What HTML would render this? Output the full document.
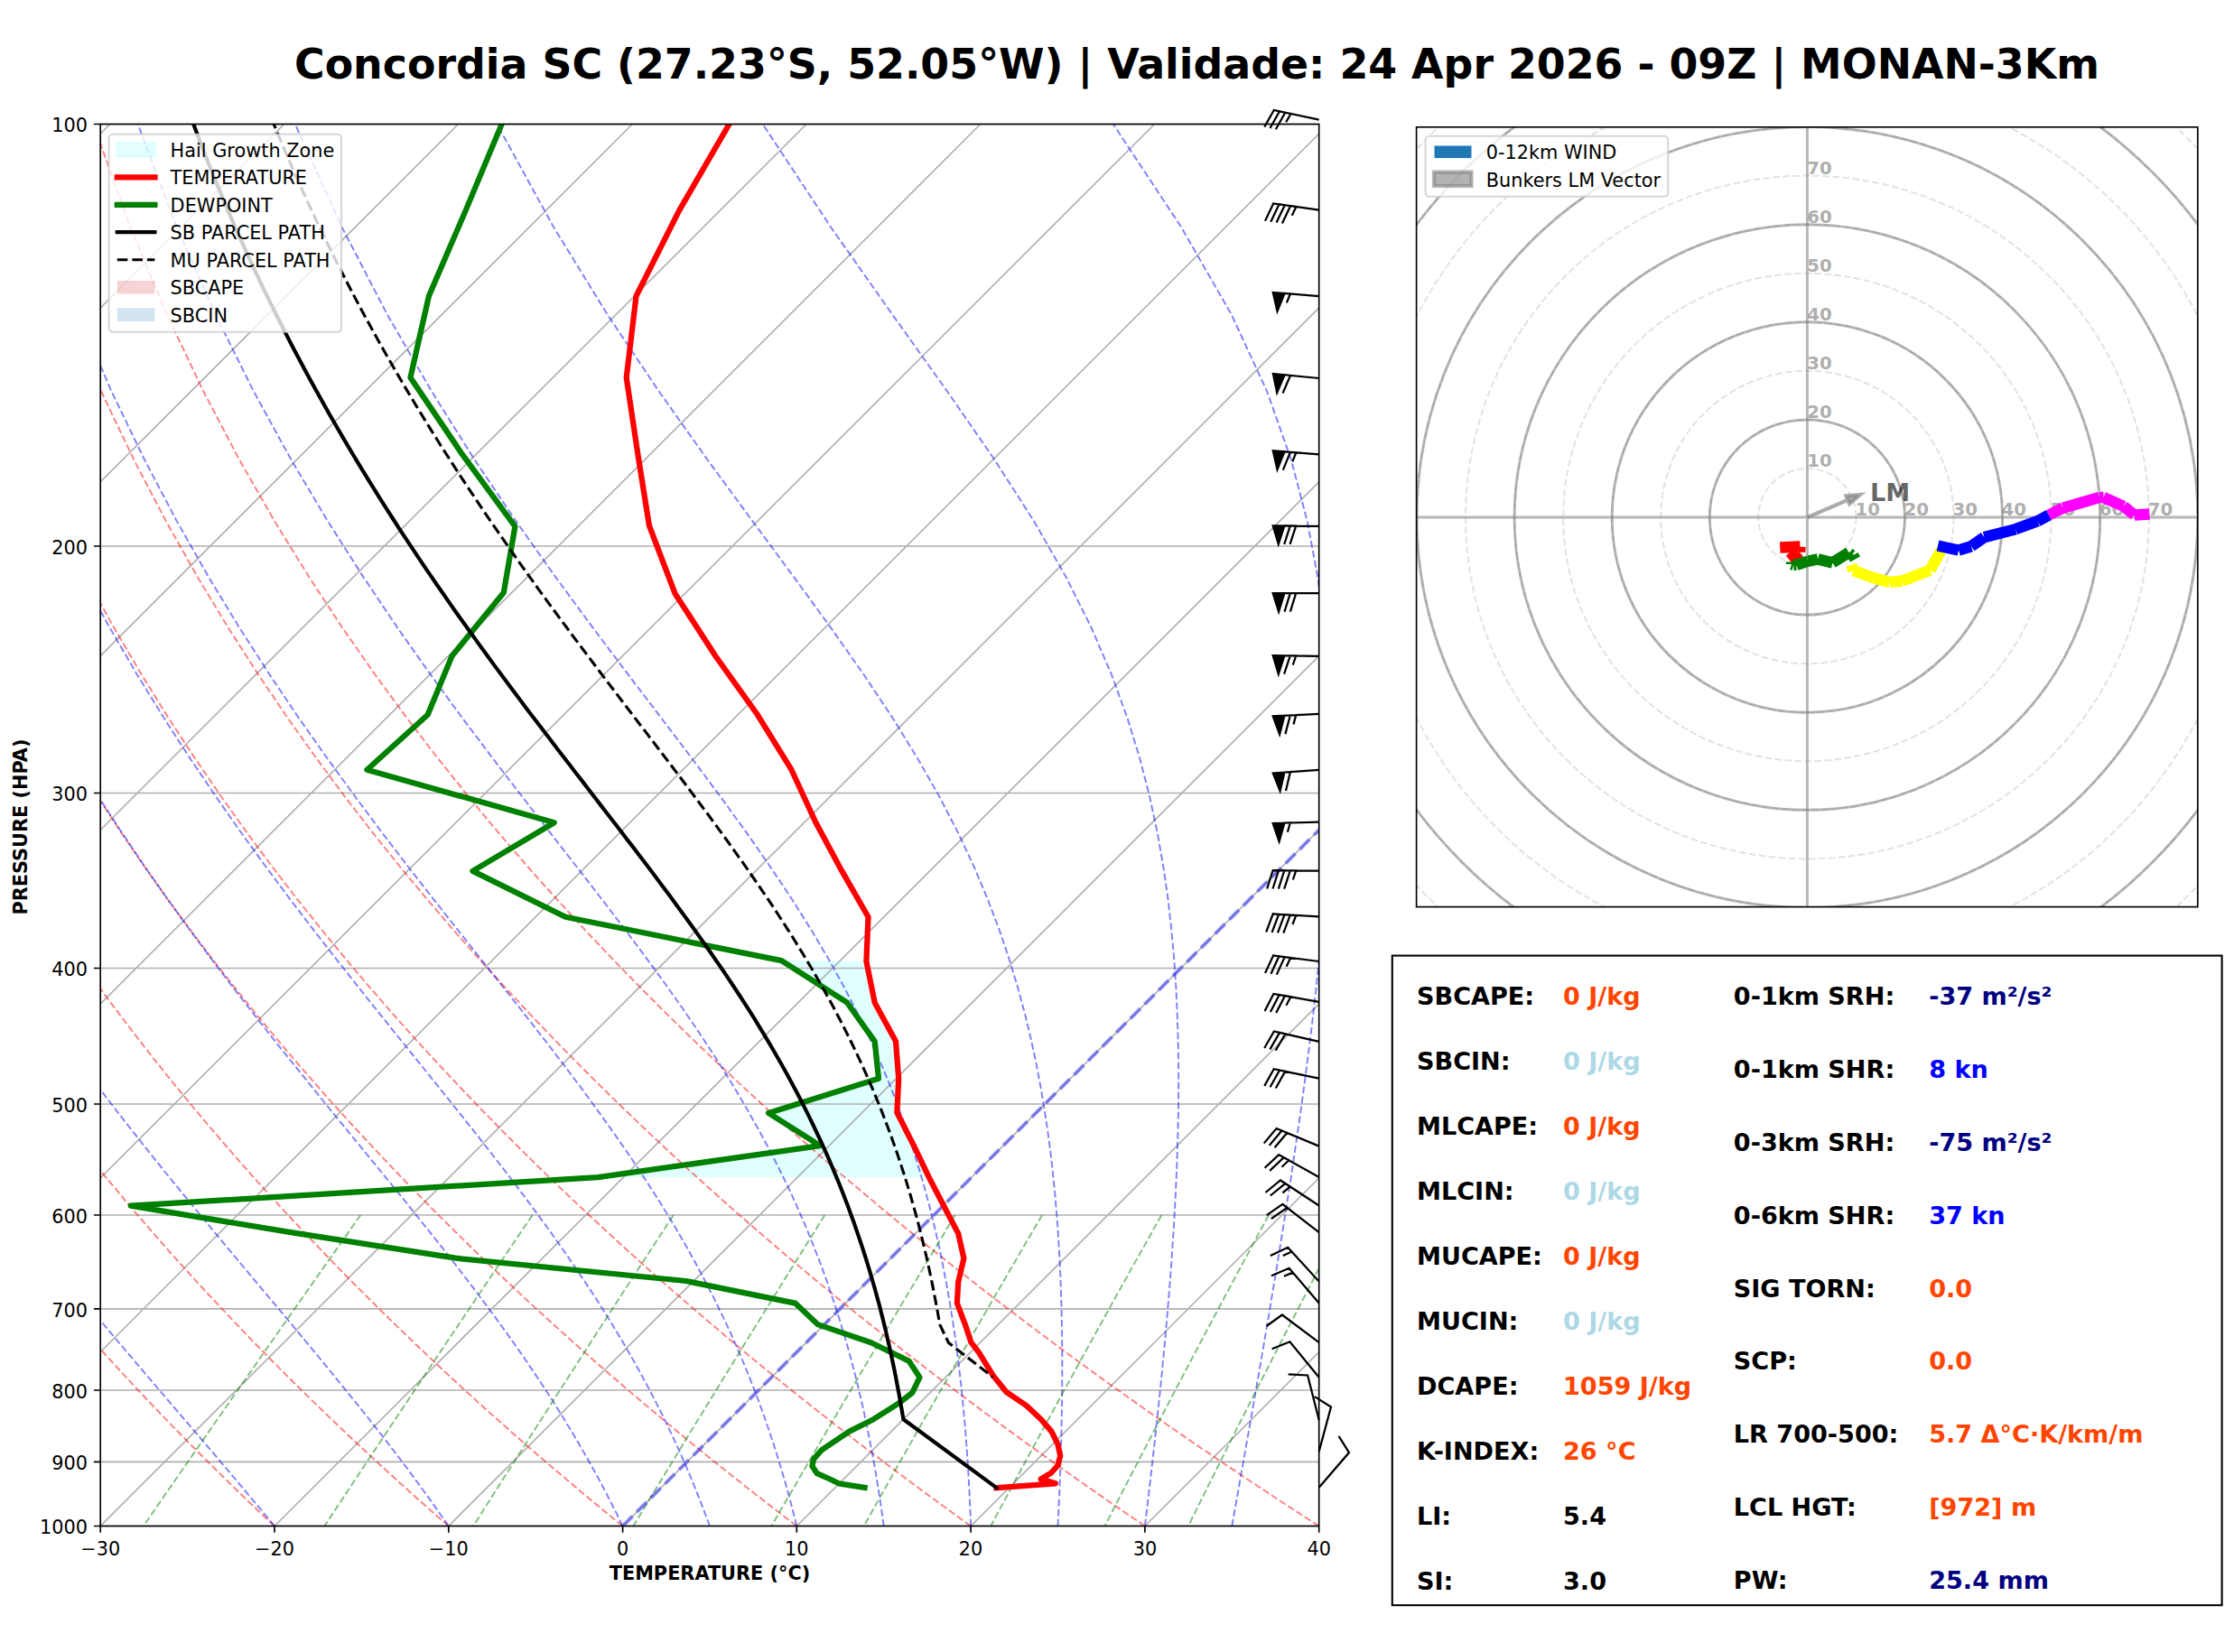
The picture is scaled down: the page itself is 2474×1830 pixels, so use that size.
<!DOCTYPE html>
<html><head><meta charset="utf-8"><title>Skew-T</title><style>html,body{margin:0;padding:0;background:#fff}</style></head><body><svg width="2474" height="1830" viewBox="0 0 2474 1830" style="display:block;font-family:'DejaVu Sans','Liberation Sans',sans-serif">
<rect width="2474" height="1830" fill="#fff"/>
<defs><clipPath id="ca"><rect x="111.2" y="137.5" width="1349.5" height="1553.0"/></clipPath></defs>
<g clip-path="url(#ca)" fill="none">
<path d="M865.5 1064.1 L938.2 1110.7 L968.7 1153.6 L973.0 1194.8 L851.0 1232.9 L908.2 1269.2 L662.2 1304.2 L1029.0 1304.6 L1012.9 1271.0 L993.4 1232.5 L995.2 1194.8 L992.0 1153.6 L968.7 1110.7 L959.4 1064.8Z" fill="#00ffff" fill-opacity="0.12" stroke="none"/>
<path d="M-1623.9 1690.5 L-70.9 137.5 M-1431.1 1690.5 L121.9 137.5 M-1238.3 1690.5 L314.7 137.5 M-1045.5 1690.5 L507.5 137.5 M-852.7 1690.5 L700.3 137.5 M-659.9 1690.5 L893.1 137.5 M-467.2 1690.5 L1085.8 137.5 M-274.4 1690.5 L1278.6 137.5 M-81.6 1690.5 L1471.4 137.5 M111.2 1690.5 L1664.2 137.5 M304.0 1690.5 L1857.0 137.5 M496.8 1690.5 L2049.8 137.5 M689.6 1690.5 L2242.6 137.5 M882.3 1690.5 L2435.3 137.5 M1075.1 1690.5 L2628.1 137.5 M1267.9 1690.5 L2820.9 137.5 M1460.7 1690.5 L3013.7 137.5 M111.2 137.5 L1460.7 137.5 M111.2 605.0 L1460.7 605.0 M111.2 878.5 L1460.7 878.5 M111.2 1072.5 L1460.7 1072.5 M111.2 1223.0 L1460.7 1223.0 M111.2 1346.0 L1460.7 1346.0 M111.2 1449.9 L1460.7 1449.9 M111.2 1540.0 L1460.7 1540.0 M111.2 1619.4 L1460.7 1619.4 M111.2 1690.5 L1460.7 1690.5" stroke="#b0b0b0" stroke-width="1.67"/>
<path d="M111.2 1690.5 L98.9 1678.0 L86.6 1665.3 L74.1 1652.3 L61.6 1639.0 L48.9 1625.5 L36.1 1611.7 L23.3 1597.7 L10.3 1583.3 L-2.8 1568.6 L-16.0 1553.6 L-29.3 1538.3 L-42.8 1522.6 L-56.3 1506.5 L-70.0 1490.0 L-83.8 1473.1 L-97.7 1455.8 L-111.8 1438.0 L-126.0 1419.8 L-140.3 1401.0 L-154.8 1381.7 L-169.4 1361.8 L-184.1 1341.4 L-199.0 1320.2 L-214.1 1298.5 L-229.2 1275.9 L-244.6 1252.6 L-260.0 1228.5 L-275.7 1203.4 L-291.4 1177.4 L-307.4 1150.4 L-323.4 1122.2 L-339.6 1092.8 L-356.0 1062.1 L-372.4 1029.9 L-389.0 996.1 L-405.7 960.5 L-422.5 922.9 L-439.3 883.0 L-456.1 840.7 L-472.9 795.6 L-489.7 747.2 L-506.2 695.1 L-522.4 638.6 L-538.1 576.9 L-553.2 509.0 L-567.1 433.5 L-579.4 348.5 L-589.4 251.2 L-595.5 137.5 M304.0 1690.5 L290.7 1678.0 L277.3 1665.3 L263.8 1652.3 L250.2 1639.0 L236.5 1625.5 L222.6 1611.7 L208.6 1597.7 L194.5 1583.3 L180.3 1568.6 L165.9 1553.6 L151.4 1538.3 L136.8 1522.6 L122.0 1506.5 L107.1 1490.0 L92.0 1473.1 L76.8 1455.8 L61.4 1438.0 L45.9 1419.8 L30.2 1401.0 L14.4 1381.7 L-1.7 1361.8 L-17.8 1341.4 L-34.2 1320.2 L-50.8 1298.5 L-67.5 1275.9 L-84.4 1252.6 L-101.5 1228.5 L-118.8 1203.4 L-136.3 1177.4 L-154.0 1150.4 L-171.9 1122.2 L-190.0 1092.8 L-208.2 1062.1 L-226.7 1029.9 L-245.4 996.1 L-264.2 960.5 L-283.2 922.9 L-302.4 883.0 L-321.6 840.7 L-341.0 795.6 L-360.4 747.2 L-379.7 695.1 L-398.9 638.6 L-417.9 576.9 L-436.3 509.0 L-453.9 433.5 L-470.3 348.5 L-484.6 251.2 L-495.6 137.5 M496.8 1690.5 L482.5 1678.0 L468.1 1665.3 L453.5 1652.3 L438.8 1639.0 L424.0 1625.5 L409.1 1611.7 L394.0 1597.7 L378.8 1583.3 L363.4 1568.6 L347.9 1553.6 L332.2 1538.3 L316.3 1522.6 L300.3 1506.5 L284.2 1490.0 L267.9 1473.1 L251.4 1455.8 L234.7 1438.0 L217.8 1419.8 L200.8 1401.0 L183.5 1381.7 L166.1 1361.8 L148.4 1341.4 L130.6 1320.2 L112.5 1298.5 L94.2 1275.9 L75.7 1252.6 L57.0 1228.5 L38.0 1203.4 L18.8 1177.4 L-0.6 1150.4 L-20.3 1122.2 L-40.3 1092.8 L-60.5 1062.1 L-81.0 1029.9 L-101.7 996.1 L-122.7 960.5 L-143.9 922.9 L-165.4 883.0 L-187.1 840.7 L-209.0 795.6 L-231.1 747.2 L-253.3 695.1 L-275.5 638.6 L-297.6 576.9 L-319.4 509.0 L-340.7 433.5 L-361.1 348.5 L-379.8 251.2 L-395.8 137.5 M689.6 1690.5 L674.2 1678.0 L658.8 1665.3 L643.2 1652.3 L627.5 1639.0 L611.6 1625.5 L595.5 1611.7 L579.3 1597.7 L563.0 1583.3 L546.5 1568.6 L529.8 1553.6 L512.9 1538.3 L495.9 1522.6 L478.7 1506.5 L461.3 1490.0 L443.7 1473.1 L425.9 1455.8 L407.9 1438.0 L389.7 1419.8 L371.3 1401.0 L352.7 1381.7 L333.8 1361.8 L314.7 1341.4 L295.4 1320.2 L275.8 1298.5 L256.0 1275.9 L235.9 1252.6 L215.5 1228.5 L194.9 1203.4 L173.9 1177.4 L152.7 1150.4 L131.2 1122.2 L109.4 1092.8 L87.2 1062.1 L64.7 1029.9 L41.9 996.1 L18.8 960.5 L-4.7 922.9 L-28.5 883.0 L-52.6 840.7 L-77.1 795.6 L-101.8 747.2 L-126.8 695.1 L-152.0 638.6 L-177.3 576.9 L-202.5 509.0 L-227.5 433.5 L-251.9 348.5 L-275.0 251.2 L-295.9 137.5 M882.3 1690.5 L866.0 1678.0 L849.5 1665.3 L832.9 1652.3 L816.1 1639.0 L799.1 1625.5 L782.0 1611.7 L764.7 1597.7 L747.2 1583.3 L729.6 1568.6 L711.7 1553.6 L693.7 1538.3 L675.4 1522.6 L657.0 1506.5 L638.4 1490.0 L619.5 1473.1 L600.4 1455.8 L581.1 1438.0 L561.6 1419.8 L541.8 1401.0 L521.8 1381.7 L501.5 1361.8 L481.0 1341.4 L460.2 1320.2 L439.1 1298.5 L417.7 1275.9 L396.0 1252.6 L374.0 1228.5 L351.7 1203.4 L329.1 1177.4 L306.1 1150.4 L282.7 1122.2 L259.0 1092.8 L234.9 1062.1 L210.5 1029.9 L185.6 996.1 L160.3 960.5 L134.6 922.9 L108.5 883.0 L81.9 840.7 L54.9 795.6 L27.5 747.2 L-0.4 695.1 L-28.5 638.6 L-57.0 576.9 L-85.7 509.0 L-114.3 433.5 L-142.7 348.5 L-170.2 251.2 L-196.1 137.5 M1075.1 1690.5 L1057.8 1678.0 L1040.3 1665.3 L1022.6 1652.3 L1004.7 1639.0 L986.7 1625.5 L968.5 1611.7 L950.0 1597.7 L931.4 1583.3 L912.6 1568.6 L893.6 1553.6 L874.4 1538.3 L855.0 1522.6 L835.3 1506.5 L815.5 1490.0 L795.3 1473.1 L775.0 1455.8 L754.4 1438.0 L733.5 1419.8 L712.4 1401.0 L691.0 1381.7 L669.3 1361.8 L647.3 1341.4 L625.0 1320.2 L602.4 1298.5 L579.4 1275.9 L556.2 1252.6 L532.5 1228.5 L508.6 1203.4 L484.2 1177.4 L459.4 1150.4 L434.3 1122.2 L408.7 1092.8 L382.7 1062.1 L356.2 1029.9 L329.2 996.1 L301.8 960.5 L273.9 922.9 L245.4 883.0 L216.4 840.7 L186.8 795.6 L156.7 747.2 L126.1 695.1 L94.9 638.6 L63.3 576.9 L31.2 509.0 L-1.1 433.5 L-33.5 348.5 L-65.4 251.2 L-96.2 137.5 M1267.9 1690.5 L1249.5 1678.0 L1231.0 1665.3 L1212.3 1652.3 L1193.3 1639.0 L1174.2 1625.5 L1154.9 1611.7 L1135.4 1597.7 L1115.7 1583.3 L1095.7 1568.6 L1075.6 1553.6 L1055.2 1538.3 L1034.5 1522.6 L1013.7 1506.5 L992.5 1490.0 L971.2 1473.1 L949.5 1455.8 L927.6 1438.0 L905.4 1419.8 L882.9 1401.0 L860.1 1381.7 L837.0 1361.8 L813.6 1341.4 L789.8 1320.2 L765.7 1298.5 L741.2 1275.9 L716.3 1252.6 L691.1 1228.5 L665.4 1203.4 L639.3 1177.4 L612.8 1150.4 L585.8 1122.2 L558.4 1092.8 L530.4 1062.1 L501.9 1029.9 L472.9 996.1 L443.3 960.5 L413.1 922.9 L382.3 883.0 L350.9 840.7 L318.8 795.6 L286.0 747.2 L252.6 695.1 L218.4 638.6 L183.6 576.9 L148.1 509.0 L112.1 433.5 L75.7 348.5 L39.3 251.2 L3.7 137.5 M1460.7 1690.5 L1441.3 1678.0 L1421.7 1665.3 L1402.0 1652.3 L1382.0 1639.0 L1361.8 1625.5 L1341.4 1611.7 L1320.7 1597.7 L1299.9 1583.3 L1278.8 1568.6 L1257.5 1553.6 L1235.9 1538.3 L1214.1 1522.6 L1192.0 1506.5 L1169.6 1490.0 L1147.0 1473.1 L1124.1 1455.8 L1100.8 1438.0 L1077.3 1419.8 L1053.4 1401.0 L1029.3 1381.7 L1004.7 1361.8 L979.8 1341.4 L954.6 1320.2 L928.9 1298.5 L902.9 1275.9 L876.5 1252.6 L849.6 1228.5 L822.3 1203.4 L794.5 1177.4 L766.2 1150.4 L737.4 1122.2 L708.0 1092.8 L678.1 1062.1 L647.6 1029.9 L616.6 996.1 L584.8 960.5 L552.4 922.9 L519.3 883.0 L485.4 840.7 L450.8 795.6 L415.3 747.2 L379.0 695.1 L341.9 638.6 L303.8 576.9 L264.9 509.0 L225.3 433.5 L184.9 348.5 L144.1 251.2 L103.5 137.5" stroke="#ff0000" stroke-opacity="0.5" stroke-width="1.92" stroke-dasharray="7.71 3.33"/>
<path d="M111.2 1690.5 L100.3 1678.0 L89.2 1665.3 L77.9 1652.3 L66.4 1639.0 L54.7 1625.5 L42.9 1611.7 L30.8 1597.7 L18.6 1583.3 L6.2 1568.6 L-6.5 1553.6 L-19.3 1538.3 L-32.2 1522.6 L-45.4 1506.5 L-58.7 1490.0 L-72.2 1473.1 L-85.9 1455.8 L-99.8 1438.0 L-113.8 1419.8 L-128.0 1401.0 L-142.4 1381.7 L-156.9 1361.8 L-171.6 1341.4 L-186.5 1320.2 L-201.6 1298.5 L-216.8 1275.9 L-232.2 1252.6 L-247.7 1228.5 L-263.4 1203.4 L-279.3 1177.4 L-295.3 1150.4 L-311.5 1122.2 L-327.8 1092.8 L-344.3 1062.1 L-360.9 1029.9 L-377.7 996.1 L-394.5 960.5 L-411.5 922.9 L-428.5 883.0 L-445.5 840.7 L-462.5 795.6 L-479.4 747.2 L-496.2 695.1 L-512.6 638.6 L-528.6 576.9 L-543.9 509.0 L-558.2 433.5 L-570.8 348.5 L-581.1 251.2 L-587.6 137.5 M304.0 1690.5 L293.7 1678.0 L283.1 1665.3 L272.2 1652.3 L261.0 1639.0 L249.6 1625.5 L237.9 1611.7 L225.9 1597.7 L213.6 1583.3 L201.0 1568.6 L188.2 1553.6 L175.1 1538.3 L161.7 1522.6 L148.0 1506.5 L134.0 1490.0 L119.8 1473.1 L105.3 1455.8 L90.6 1438.0 L75.6 1419.8 L60.3 1401.0 L44.8 1381.7 L29.0 1361.8 L13.0 1341.4 L-3.3 1320.2 L-19.8 1298.5 L-36.6 1275.9 L-53.6 1252.6 L-70.8 1228.5 L-88.3 1203.4 L-106.0 1177.4 L-123.9 1150.4 L-142.1 1122.2 L-160.5 1092.8 L-179.1 1062.1 L-197.9 1029.9 L-217.0 996.1 L-236.2 960.5 L-255.6 922.9 L-275.2 883.0 L-295.0 840.7 L-314.9 795.6 L-334.8 747.2 L-354.7 695.1 L-374.5 638.6 L-394.0 576.9 L-413.1 509.0 L-431.5 433.5 L-448.6 348.5 L-463.8 251.2 L-475.8 137.5 M496.8 1690.5 L488.1 1678.0 L479.1 1665.3 L469.7 1652.3 L460.0 1639.0 L450.0 1625.5 L439.6 1611.7 L428.8 1597.7 L417.6 1583.3 L406.0 1568.6 L394.0 1553.6 L381.6 1538.3 L368.8 1522.6 L355.6 1506.5 L342.0 1490.0 L328.0 1473.1 L313.5 1455.8 L298.6 1438.0 L283.3 1419.8 L267.6 1401.0 L251.5 1381.7 L234.9 1361.8 L218.0 1341.4 L200.7 1320.2 L183.0 1298.5 L164.9 1275.9 L146.4 1252.6 L127.6 1228.5 L108.4 1203.4 L88.8 1177.4 L68.9 1150.4 L48.7 1122.2 L28.1 1092.8 L7.1 1062.1 L-14.1 1029.9 L-35.7 996.1 L-57.6 960.5 L-79.8 922.9 L-102.3 883.0 L-125.1 840.7 L-148.2 795.6 L-171.5 747.2 L-195.0 695.1 L-218.5 638.6 L-242.1 576.9 L-265.5 509.0 L-288.5 433.5 L-310.7 348.5 L-331.5 251.2 L-349.7 137.5 M689.6 1690.5 L683.5 1678.0 L677.1 1665.3 L670.4 1652.3 L663.4 1639.0 L656.0 1625.5 L648.2 1611.7 L640.1 1597.7 L631.6 1583.3 L622.6 1568.6 L613.2 1553.6 L603.3 1538.3 L592.9 1522.6 L582.0 1506.5 L570.5 1490.0 L558.5 1473.1 L545.9 1455.8 L532.7 1438.0 L518.9 1419.8 L504.5 1401.0 L489.4 1381.7 L473.6 1361.8 L457.2 1341.4 L440.2 1320.2 L422.4 1298.5 L404.0 1275.9 L384.9 1252.6 L365.2 1228.5 L344.9 1203.4 L323.9 1177.4 L302.3 1150.4 L280.1 1122.2 L257.3 1092.8 L234.0 1062.1 L210.1 1029.9 L185.7 996.1 L160.7 960.5 L135.3 922.9 L109.3 883.0 L82.8 840.7 L55.9 795.6 L28.5 747.2 L0.7 695.1 L-27.5 638.6 L-56.0 576.9 L-84.7 509.0 L-113.4 433.5 L-141.8 348.5 L-169.3 251.2 L-195.2 137.5 M786.0 1690.5 L781.3 1678.0 L776.5 1665.3 L771.4 1652.3 L766.0 1639.0 L760.3 1625.5 L754.3 1611.7 L747.9 1597.7 L741.2 1583.3 L734.1 1568.6 L726.5 1553.6 L718.6 1538.3 L710.1 1522.6 L701.2 1506.5 L691.7 1490.0 L681.6 1473.1 L671.0 1455.8 L659.7 1438.0 L647.7 1419.8 L635.1 1401.0 L621.7 1381.7 L607.6 1361.8 L592.6 1341.4 L576.9 1320.2 L560.3 1298.5 L542.8 1275.9 L524.5 1252.6 L505.3 1228.5 L485.2 1203.4 L464.3 1177.4 L442.5 1150.4 L419.8 1122.2 L396.4 1092.8 L372.1 1062.1 L347.0 1029.9 L321.2 996.1 L294.7 960.5 L267.4 922.9 L239.5 883.0 L210.9 840.7 L181.7 795.6 L151.8 747.2 L121.4 695.1 L90.3 638.6 L58.8 576.9 L26.9 509.0 L-5.3 433.5 L-37.5 348.5 L-69.3 251.2 L-99.9 137.5 M882.3 1690.5 L879.2 1678.0 L875.9 1665.3 L872.4 1652.3 L868.7 1639.0 L864.7 1625.5 L860.5 1611.7 L856.0 1597.7 L851.2 1583.3 L846.2 1568.6 L840.7 1553.6 L834.9 1538.3 L828.7 1522.6 L822.1 1506.5 L815.0 1490.0 L807.5 1473.1 L799.3 1455.8 L790.6 1438.0 L781.3 1419.8 L771.3 1401.0 L760.6 1381.7 L749.1 1361.8 L736.8 1341.4 L723.5 1320.2 L709.4 1298.5 L694.2 1275.9 L678.0 1252.6 L660.7 1228.5 L642.3 1203.4 L622.7 1177.4 L601.9 1150.4 L579.9 1122.2 L556.7 1092.8 L532.3 1062.1 L506.8 1029.9 L480.1 996.1 L452.3 960.5 L423.5 922.9 L393.7 883.0 L362.9 840.7 L331.1 795.6 L298.5 747.2 L265.0 695.1 L230.7 638.6 L195.6 576.9 L159.9 509.0 L123.5 433.5 L86.7 348.5 L49.9 251.2 L13.8 137.5 M978.7 1690.5 L977.0 1678.0 L975.2 1665.3 L973.2 1652.3 L971.0 1639.0 L968.8 1625.5 L966.3 1611.7 L963.6 1597.7 L960.8 1583.3 L957.7 1568.6 L954.4 1553.6 L950.8 1538.3 L946.9 1522.6 L942.7 1506.5 L938.2 1490.0 L933.2 1473.1 L927.9 1455.8 L922.1 1438.0 L915.9 1419.8 L909.1 1401.0 L901.6 1381.7 L893.6 1361.8 L884.8 1341.4 L875.2 1320.2 L864.7 1298.5 L853.3 1275.9 L840.8 1252.6 L827.2 1228.5 L812.4 1203.4 L796.2 1177.4 L778.6 1150.4 L759.5 1122.2 L738.8 1092.8 L716.4 1062.1 L692.3 1029.9 L666.5 996.1 L638.9 960.5 L609.6 922.9 L578.7 883.0 L546.2 840.7 L512.2 795.6 L476.8 747.2 L440.0 695.1 L402.0 638.6 L362.7 576.9 L322.3 509.0 L280.9 433.5 L238.6 348.5 L195.7 251.2 L152.7 137.5 M1075.1 1690.5 L1074.7 1678.0 L1074.1 1665.3 L1073.5 1652.3 L1072.8 1639.0 L1072.0 1625.5 L1071.1 1611.7 L1070.1 1597.7 L1069.0 1583.3 L1067.7 1568.6 L1066.3 1553.6 L1064.8 1538.3 L1063.0 1522.6 L1061.1 1506.5 L1059.0 1490.0 L1056.6 1473.1 L1053.9 1455.8 L1051.0 1438.0 L1047.7 1419.8 L1044.1 1401.0 L1040.1 1381.7 L1035.6 1361.8 L1030.7 1341.4 L1025.1 1320.2 L1018.9 1298.5 L1012.0 1275.9 L1004.3 1252.6 L995.7 1228.5 L986.1 1203.4 L975.3 1177.4 L963.2 1150.4 L949.6 1122.2 L934.4 1092.8 L917.4 1062.1 L898.3 1029.9 L877.0 996.1 L853.3 960.5 L827.1 922.9 L798.2 883.0 L766.7 840.7 L732.5 795.6 L695.6 747.2 L656.4 695.1 L614.8 638.6 L571.1 576.9 L525.4 509.0 L478.0 433.5 L428.9 348.5 L378.4 251.2 L326.8 137.5 M1171.5 1690.5 L1172.1 1678.0 L1172.7 1665.3 L1173.3 1652.3 L1173.8 1639.0 L1174.3 1625.5 L1174.7 1611.7 L1175.2 1597.7 L1175.5 1583.3 L1175.8 1568.6 L1176.1 1553.6 L1176.2 1538.3 L1176.3 1522.6 L1176.3 1506.5 L1176.2 1490.0 L1176.0 1473.1 L1175.7 1455.8 L1175.2 1438.0 L1174.6 1419.8 L1173.8 1401.0 L1172.7 1381.7 L1171.5 1361.8 L1169.9 1341.4 L1168.1 1320.2 L1165.9 1298.5 L1163.3 1275.9 L1160.2 1252.6 L1156.6 1228.5 L1152.3 1203.4 L1147.4 1177.4 L1141.6 1150.4 L1134.8 1122.2 L1126.8 1092.8 L1117.5 1062.1 L1106.6 1029.9 L1093.8 996.1 L1078.8 960.5 L1061.2 922.9 L1040.6 883.0 L1016.5 840.7 L988.7 795.6 L956.5 747.2 L919.9 695.1 L878.7 638.6 L833.1 576.9 L783.3 509.0 L729.7 433.5 L672.7 348.5 L612.9 251.2 L550.4 137.5 M1267.9 1690.5 L1269.4 1678.0 L1270.9 1665.3 L1272.5 1652.3 L1274.0 1639.0 L1275.5 1625.5 L1277.1 1611.7 L1278.7 1597.7 L1280.2 1583.3 L1281.8 1568.6 L1283.4 1553.6 L1285.0 1538.3 L1286.6 1522.6 L1288.1 1506.5 L1289.7 1490.0 L1291.2 1473.1 L1292.7 1455.8 L1294.2 1438.0 L1295.7 1419.8 L1297.1 1401.0 L1298.4 1381.7 L1299.7 1361.8 L1300.9 1341.4 L1302.0 1320.2 L1303.0 1298.5 L1303.8 1275.9 L1304.5 1252.6 L1305.0 1228.5 L1305.2 1203.4 L1305.1 1177.4 L1304.6 1150.4 L1303.7 1122.2 L1302.3 1092.8 L1300.2 1062.1 L1297.3 1029.9 L1293.5 996.1 L1288.4 960.5 L1281.8 922.9 L1273.3 883.0 L1262.4 840.7 L1248.6 795.6 L1230.9 747.2 L1208.5 695.1 L1180.2 638.6 L1144.8 576.9 L1101.2 509.0 L1049.0 433.5 L988.3 348.5 L919.8 251.2 L844.7 137.5 M1364.3 1690.5 L1366.5 1678.0 L1368.8 1665.3 L1371.1 1652.3 L1373.4 1639.0 L1375.8 1625.5 L1378.3 1611.7 L1380.7 1597.7 L1383.3 1583.3 L1385.8 1568.6 L1388.5 1553.6 L1391.1 1538.3 L1393.9 1522.6 L1396.6 1506.5 L1399.5 1490.0 L1402.3 1473.1 L1405.3 1455.8 L1408.2 1438.0 L1411.3 1419.8 L1414.4 1401.0 L1417.5 1381.7 L1420.7 1361.8 L1424.0 1341.4 L1427.2 1320.2 L1430.6 1298.5 L1433.9 1275.9 L1437.3 1252.6 L1440.8 1228.5 L1444.2 1203.4 L1447.6 1177.4 L1451.1 1150.4 L1454.4 1122.2 L1457.7 1092.8 L1460.9 1062.1 L1463.9 1029.9 L1466.7 996.1 L1469.2 960.5 L1471.2 922.9 L1472.7 883.0 L1473.3 840.7 L1472.8 795.6 L1470.7 747.2 L1466.5 695.1 L1459.2 638.6 L1447.6 576.9 L1429.8 509.0 L1403.1 433.5 L1363.8 348.5 L1307.9 251.2 L1232.8 137.5 M1460.7 1690.5 L1463.5 1678.0 L1466.3 1665.3 L1469.2 1652.3 L1472.2 1639.0 L1475.2 1625.5 L1478.3 1611.7 L1481.5 1597.7 L1484.8 1583.3 L1488.1 1568.6 L1491.5 1553.6 L1495.0 1538.3 L1498.6 1522.6 L1502.3 1506.5 L1506.1 1490.0 L1509.9 1473.1 L1513.9 1455.8 L1518.0 1438.0 L1522.2 1419.8 L1526.5 1401.0 L1530.9 1381.7 L1535.5 1361.8 L1540.2 1341.4 L1545.1 1320.2 L1550.1 1298.5 L1555.2 1275.9 L1560.5 1252.6 L1566.0 1228.5 L1571.7 1203.4 L1577.5 1177.4 L1583.5 1150.4 L1589.8 1122.2 L1596.2 1092.8 L1602.9 1062.1 L1609.8 1029.9 L1616.9 996.1 L1624.2 960.5 L1631.7 922.9 L1639.4 883.0 L1647.3 840.7 L1655.3 795.6 L1663.3 747.2 L1671.3 695.1 L1678.8 638.6 L1685.7 576.9 L1691.2 509.0 L1694.2 433.5 L1692.9 348.5 L1683.5 251.2 L1659.0 137.5 M1557.1 1690.5 L1560.3 1678.0 L1563.6 1665.3 L1566.9 1652.3 L1570.4 1639.0 L1573.9 1625.5 L1577.5 1611.7 L1581.2 1597.7 L1585.0 1583.3 L1588.9 1568.6 L1592.9 1553.6 L1597.0 1538.3 L1601.2 1522.6 L1605.6 1506.5 L1610.0 1490.0 L1614.6 1473.1 L1619.3 1455.8 L1624.2 1438.0 L1629.2 1419.8 L1634.4 1401.0 L1639.8 1381.7 L1645.3 1361.8 L1651.0 1341.4 L1657.0 1320.2 L1663.1 1298.5 L1669.5 1275.9 L1676.1 1252.6 L1683.0 1228.5 L1690.1 1203.4 L1697.6 1177.4 L1705.3 1150.4 L1713.4 1122.2 L1721.9 1092.8 L1730.8 1062.1 L1740.1 1029.9 L1749.9 996.1 L1760.2 960.5 L1771.1 922.9 L1782.6 883.0 L1794.7 840.7 L1807.6 795.6 L1821.4 747.2 L1836.0 695.1 L1851.6 638.6 L1868.3 576.9 L1886.2 509.0 L1905.3 433.5 L1925.5 348.5 L1946.4 251.2 L1966.8 137.5 M1653.5 1690.5 L1657.0 1678.0 L1660.6 1665.3 L1664.3 1652.3 L1668.1 1639.0 L1671.9 1625.5 L1675.9 1611.7 L1680.0 1597.7 L1684.2 1583.3 L1688.5 1568.6 L1692.9 1553.6 L1697.4 1538.3 L1702.1 1522.6 L1706.9 1506.5 L1711.8 1490.0 L1716.9 1473.1 L1722.2 1455.8 L1727.6 1438.0 L1733.2 1419.8 L1739.0 1401.0 L1745.0 1381.7 L1751.2 1361.8 L1757.6 1341.4 L1764.3 1320.2 L1771.2 1298.5 L1778.4 1275.9 L1785.8 1252.6 L1793.6 1228.5 L1801.8 1203.4 L1810.3 1177.4 L1819.2 1150.4 L1828.5 1122.2 L1838.3 1092.8 L1848.5 1062.1 L1859.4 1029.9 L1870.8 996.1 L1883.0 960.5 L1895.9 922.9 L1909.6 883.0 L1924.3 840.7 L1940.0 795.6 L1957.0 747.2 L1975.3 695.1 L1995.3 638.6 L2017.2 576.9 L2041.3 509.0 L2068.2 433.5 L2098.4 348.5 L2132.7 251.2 L2172.2 137.5 M1749.9 1690.5 L1753.6 1678.0 L1757.4 1665.3 L1761.3 1652.3 L1765.3 1639.0 L1769.5 1625.5 L1773.7 1611.7 L1778.0 1597.7 L1782.4 1583.3 L1787.0 1568.6 L1791.7 1553.6 L1796.5 1538.3 L1801.5 1522.6 L1806.6 1506.5 L1811.9 1490.0 L1817.3 1473.1 L1822.9 1455.8 L1828.7 1438.0 L1834.7 1419.8 L1840.9 1401.0 L1847.3 1381.7 L1853.9 1361.8 L1860.8 1341.4 L1868.0 1320.2 L1875.4 1298.5 L1883.1 1275.9 L1891.2 1252.6 L1899.5 1228.5 L1908.3 1203.4 L1917.5 1177.4 L1927.1 1150.4 L1937.1 1122.2 L1947.7 1092.8 L1958.9 1062.1 L1970.7 1029.9 L1983.2 996.1 L1996.4 960.5 L2010.5 922.9 L2025.6 883.0 L2041.7 840.7 L2059.1 795.6 L2077.9 747.2 L2098.4 695.1 L2120.7 638.6 L2145.4 576.9 L2172.9 509.0 L2203.7 433.5 L2238.8 348.5 L2279.4 251.2 L2327.3 137.5 M1846.3 1690.5 L1850.1 1678.0 L1854.1 1665.3 L1858.1 1652.3 L1862.3 1639.0 L1866.5 1625.5 L1870.9 1611.7 L1875.4 1597.7 L1880.0 1583.3 L1884.8 1568.6 L1889.6 1553.6 L1894.6 1538.3 L1899.8 1522.6 L1905.1 1506.5 L1910.6 1490.0 L1916.2 1473.1 L1922.0 1455.8 L1928.1 1438.0 L1934.3 1419.8 L1940.7 1401.0 L1947.4 1381.7 L1954.3 1361.8 L1961.5 1341.4 L1968.9 1320.2 L1976.6 1298.5 L1984.7 1275.9 L1993.1 1252.6 L2001.8 1228.5 L2010.9 1203.4 L2020.5 1177.4 L2030.5 1150.4 L2041.1 1122.2 L2052.1 1092.8 L2063.8 1062.1 L2076.2 1029.9 L2089.3 996.1 L2103.2 960.5 L2118.0 922.9 L2133.8 883.0 L2150.8 840.7 L2169.1 795.6 L2188.9 747.2 L2210.6 695.1 L2234.3 638.6 L2260.5 576.9 L2289.7 509.0 L2322.6 433.5 L2360.2 348.5 L2403.9 251.2 L2455.9 137.5 M1942.7 1690.5 L1946.6 1678.0 L1950.6 1665.3 L1954.7 1652.3 L1959.0 1639.0 L1963.3 1625.5 L1967.8 1611.7 L1972.3 1597.7 L1977.0 1583.3 L1981.8 1568.6 L1986.8 1553.6 L1991.9 1538.3 L1997.2 1522.6 L2002.6 1506.5 L2008.2 1490.0 L2013.9 1473.1 L2019.9 1455.8 L2026.0 1438.0 L2032.3 1419.8 L2038.9 1401.0 L2045.7 1381.7 L2052.7 1361.8 L2060.1 1341.4 L2067.7 1320.2 L2075.5 1298.5 L2083.8 1275.9 L2092.3 1252.6 L2101.3 1228.5 L2110.6 1203.4 L2120.4 1177.4 L2130.6 1150.4 L2141.4 1122.2 L2152.8 1092.8 L2164.7 1062.1 L2177.3 1029.9 L2190.7 996.1 L2205.0 960.5 L2220.2 922.9 L2236.4 883.0 L2253.8 840.7 L2272.6 795.6 L2293.0 747.2 L2315.2 695.1 L2339.6 638.6 L2366.6 576.9 L2396.7 509.0 L2430.7 433.5 L2469.5 348.5 L2514.7 251.2 L2568.6 137.5 M2039.1 1690.5 L2043.0 1678.0 L2047.0 1665.3 L2051.2 1652.3 L2055.4 1639.0 L2059.8 1625.5 L2064.3 1611.7 L2068.8 1597.7 L2073.6 1583.3 L2078.4 1568.6 L2083.4 1553.6 L2088.5 1538.3 L2093.8 1522.6 L2099.3 1506.5 L2104.9 1490.0 L2110.7 1473.1 L2116.6 1455.8 L2122.8 1438.0 L2129.2 1419.8 L2135.8 1401.0 L2142.6 1381.7 L2149.7 1361.8 L2157.1 1341.4 L2164.7 1320.2 L2172.7 1298.5 L2180.9 1275.9 L2189.6 1252.6 L2198.6 1228.5 L2208.0 1203.4 L2217.8 1177.4 L2228.2 1150.4 L2239.0 1122.2 L2250.4 1092.8 L2262.5 1062.1 L2275.3 1029.9 L2288.8 996.1 L2303.1 960.5 L2318.5 922.9 L2334.8 883.0 L2352.5 840.7 L2371.4 795.6 L2392.0 747.2 L2414.5 695.1 L2439.2 638.6 L2466.4 576.9 L2496.9 509.0 L2531.3 433.5 L2570.7 348.5 L2616.5 251.2 L2671.2 137.5 M2135.4 1690.5 L2139.4 1678.0 L2143.4 1665.3 L2147.5 1652.3 L2151.7 1639.0 L2156.0 1625.5 L2160.5 1611.7 L2165.0 1597.7 L2169.7 1583.3 L2174.6 1568.6 L2179.5 1553.6 L2184.6 1538.3 L2189.9 1522.6 L2195.3 1506.5 L2200.9 1490.0 L2206.6 1473.1 L2212.6 1455.8 L2218.7 1438.0 L2225.0 1419.8 L2231.6 1401.0 L2238.4 1381.7 L2245.5 1361.8 L2252.8 1341.4 L2260.4 1320.2 L2268.3 1298.5 L2276.6 1275.9 L2285.2 1252.6 L2294.2 1228.5 L2303.5 1203.4 L2313.4 1177.4 L2323.7 1150.4 L2334.5 1122.2 L2345.9 1092.8 L2357.9 1062.1 L2370.7 1029.9 L2384.1 996.1 L2398.5 960.5 L2413.8 922.9 L2430.2 883.0 L2447.7 840.7 L2466.7 795.6 L2487.3 747.2 L2509.8 695.1 L2534.4 638.6 L2561.7 576.9 L2592.2 509.0 L2626.6 433.5 L2666.1 348.5 L2712.0 251.2 L2766.9 137.5 M2231.8 1690.5 L2235.7 1678.0 L2239.6 1665.3 L2243.7 1652.3 L2247.8 1639.0 L2252.1 1625.5 L2256.5 1611.7 L2261.0 1597.7 L2265.6 1583.3 L2270.3 1568.6 L2275.2 1553.6 L2280.3 1538.3 L2285.4 1522.6 L2290.8 1506.5 L2296.3 1490.0 L2301.9 1473.1 L2307.8 1455.8 L2313.9 1438.0 L2320.1 1419.8 L2326.6 1401.0 L2333.4 1381.7 L2340.3 1361.8 L2347.6 1341.4 L2355.1 1320.2 L2362.9 1298.5 L2371.0 1275.9 L2379.5 1252.6 L2388.4 1228.5 L2397.7 1203.4 L2407.4 1177.4 L2417.6 1150.4 L2428.3 1122.2 L2439.6 1092.8 L2451.5 1062.1 L2464.1 1029.9 L2477.5 996.1 L2491.7 960.5 L2506.8 922.9 L2523.0 883.0 L2540.5 840.7 L2559.3 795.6 L2579.7 747.2 L2602.0 695.1 L2626.5 638.6 L2653.6 576.9 L2683.8 509.0 L2718.0 433.5 L2757.2 348.5 L2802.9 251.2 L2857.5 137.5 M2328.2 1690.5 L2332.0 1678.0 L2335.9 1665.3 L2339.8 1652.3 L2343.9 1639.0 L2348.0 1625.5 L2352.3 1611.7 L2356.7 1597.7 L2361.2 1583.3 L2365.8 1568.6 L2370.6 1553.6 L2375.5 1538.3 L2380.6 1522.6 L2385.8 1506.5 L2391.2 1490.0 L2396.8 1473.1 L2402.5 1455.8 L2408.5 1438.0 L2414.6 1419.8 L2421.0 1401.0 L2427.5 1381.7 L2434.4 1361.8 L2441.5 1341.4 L2448.9 1320.2 L2456.5 1298.5 L2464.5 1275.9 L2472.9 1252.6 L2481.6 1228.5 L2490.7 1203.4 L2500.2 1177.4 L2510.3 1150.4 L2520.8 1122.2 L2531.9 1092.8 L2543.6 1062.1 L2556.0 1029.9 L2569.1 996.1 L2583.1 960.5 L2598.0 922.9 L2614.0 883.0 L2631.2 840.7 L2649.8 795.6 L2669.9 747.2 L2691.9 695.1 L2716.0 638.6 L2742.8 576.9 L2772.7 509.0 L2806.5 433.5 L2845.2 348.5 L2890.4 251.2 L2944.4 137.5 M2424.6 1690.5 L2428.3 1678.0 L2432.0 1665.3 L2435.8 1652.3 L2439.8 1639.0 L2443.8 1625.5 L2448.0 1611.7 L2452.2 1597.7 L2456.6 1583.3 L2461.1 1568.6 L2465.8 1553.6 L2470.5 1538.3 L2475.5 1522.6 L2480.5 1506.5 L2485.8 1490.0 L2491.2 1473.1 L2496.8 1455.8 L2502.6 1438.0 L2508.5 1419.8 L2514.7 1401.0 L2521.2 1381.7 L2527.8 1361.8 L2534.7 1341.4 L2541.9 1320.2 L2549.4 1298.5 L2557.2 1275.9 L2565.4 1252.6 L2573.9 1228.5 L2582.8 1203.4 L2592.1 1177.4 L2601.9 1150.4 L2612.2 1122.2 L2623.0 1092.8 L2634.5 1062.1 L2646.6 1029.9 L2659.5 996.1 L2673.2 960.5 L2687.8 922.9 L2703.5 883.0 L2720.4 840.7 L2738.6 795.6 L2758.3 747.2 L2779.9 695.1 L2803.6 638.6 L2829.9 576.9 L2859.3 509.0 L2892.6 433.5 L2930.7 348.5 L2975.2 251.2 L3028.4 137.5" stroke="#0000ff" stroke-opacity="0.5" stroke-width="1.92" stroke-dasharray="7.71 3.33"/>
<path d="M399.3 1346.0 L392.9 1355.1 L386.5 1364.1 L380.3 1373.0 L374.1 1381.7 L368.0 1390.4 L362.0 1398.9 L356.1 1407.3 L350.2 1415.7 L344.5 1423.9 L338.8 1432.0 L333.1 1440.0 L327.6 1448.0 L322.1 1455.8 L316.6 1463.6 L311.3 1471.2 L306.0 1478.8 L300.7 1486.3 L295.5 1493.7 L290.4 1501.0 L285.3 1508.3 L280.3 1515.5 L275.4 1522.6 L270.5 1529.6 L265.6 1536.5 L260.8 1543.4 L256.1 1550.2 L251.4 1557.0 L246.7 1563.7 L242.1 1570.3 L237.6 1576.8 L233.1 1583.3 L228.6 1589.7 L224.2 1596.1 L219.8 1602.4 L215.5 1608.6 L211.2 1614.8 L206.9 1621.0 L202.7 1627.0 L198.6 1633.1 L194.4 1639.0 L190.3 1644.9 L186.3 1650.8 L182.2 1656.6 L178.3 1662.4 L174.3 1668.1 L170.4 1673.8 L166.5 1679.4 L162.7 1685.0 L158.8 1690.5 M589.7 1346.0 L583.5 1355.1 L577.4 1364.1 L571.4 1373.0 L565.5 1381.7 L559.7 1390.4 L553.9 1398.9 L548.2 1407.3 L542.6 1415.7 L537.1 1423.9 L531.6 1432.0 L526.2 1440.0 L520.9 1448.0 L515.6 1455.8 L510.4 1463.6 L505.2 1471.2 L500.1 1478.8 L495.1 1486.3 L490.2 1493.7 L485.2 1501.0 L480.4 1508.3 L475.6 1515.5 L470.9 1522.6 L466.2 1529.6 L461.5 1536.5 L456.9 1543.4 L452.4 1550.2 L447.9 1557.0 L443.4 1563.7 L439.0 1570.3 L434.7 1576.8 L430.4 1583.3 L426.1 1589.7 L421.8 1596.1 L417.7 1602.4 L413.5 1608.6 L409.4 1614.8 L405.3 1621.0 L401.3 1627.0 L397.3 1633.1 L393.4 1639.0 L389.4 1644.9 L385.6 1650.8 L381.7 1656.6 L377.9 1662.4 L374.1 1668.1 L370.4 1673.8 L366.7 1679.4 L363.0 1685.0 L359.4 1690.5 M745.8 1346.0 L739.8 1355.1 L734.0 1364.1 L728.2 1373.0 L722.5 1381.7 L716.8 1390.4 L711.3 1398.9 L705.8 1407.3 L700.4 1415.7 L695.1 1423.9 L689.8 1432.0 L684.6 1440.0 L679.5 1448.0 L674.4 1455.8 L669.4 1463.6 L664.4 1471.2 L659.5 1478.8 L654.7 1486.3 L649.9 1493.7 L645.2 1501.0 L640.5 1508.3 L635.9 1515.5 L631.3 1522.6 L626.8 1529.6 L622.3 1536.5 L617.9 1543.4 L613.5 1550.2 L609.2 1557.0 L604.9 1563.7 L600.7 1570.3 L596.5 1576.8 L592.4 1583.3 L588.2 1589.7 L584.2 1596.1 L580.2 1602.4 L576.2 1608.6 L572.2 1614.8 L568.3 1621.0 L564.4 1627.0 L560.6 1633.1 L556.8 1639.0 L553.0 1644.9 L549.3 1650.8 L545.6 1656.6 L542.0 1662.4 L538.3 1668.1 L534.7 1673.8 L531.2 1679.4 L527.6 1685.0 L524.1 1690.5 M913.4 1346.0 L907.7 1355.1 L902.1 1364.1 L896.5 1373.0 L891.1 1381.7 L885.7 1390.4 L880.3 1398.9 L875.1 1407.3 L869.9 1415.7 L864.8 1423.9 L859.8 1432.0 L854.8 1440.0 L849.8 1448.0 L845.0 1455.8 L840.2 1463.6 L835.4 1471.2 L830.8 1478.8 L826.1 1486.3 L821.6 1493.7 L817.0 1501.0 L812.6 1508.3 L808.2 1515.5 L803.8 1522.6 L799.5 1529.6 L795.2 1536.5 L791.0 1543.4 L786.8 1550.2 L782.7 1557.0 L778.6 1563.7 L774.5 1570.3 L770.5 1576.8 L766.5 1583.3 L762.6 1589.7 L758.7 1596.1 L754.9 1602.4 L751.1 1608.6 L747.3 1614.8 L743.6 1621.0 L739.9 1627.0 L736.2 1633.1 L732.6 1639.0 L729.0 1644.9 L725.4 1650.8 L721.9 1656.6 L718.4 1662.4 L715.0 1668.1 L711.5 1673.8 L708.1 1679.4 L704.8 1685.0 L701.4 1690.5 M1057.7 1346.0 L1052.2 1355.1 L1046.8 1364.1 L1041.5 1373.0 L1036.2 1381.7 L1031.1 1390.4 L1025.9 1398.9 L1020.9 1407.3 L1015.9 1415.7 L1011.0 1423.9 L1006.2 1432.0 L1001.4 1440.0 L996.7 1448.0 L992.0 1455.8 L987.4 1463.6 L982.8 1471.2 L978.3 1478.8 L973.9 1486.3 L969.5 1493.7 L965.2 1501.0 L960.9 1508.3 L956.6 1515.5 L952.4 1522.6 L948.3 1529.6 L944.2 1536.5 L940.2 1543.4 L936.1 1550.2 L932.2 1557.0 L928.3 1563.7 L924.4 1570.3 L920.5 1576.8 L916.7 1583.3 L913.0 1589.7 L909.3 1596.1 L905.6 1602.4 L901.9 1608.6 L898.3 1614.8 L894.7 1621.0 L891.2 1627.0 L887.7 1633.1 L884.2 1639.0 L880.8 1644.9 L877.4 1650.8 L874.0 1656.6 L870.6 1662.4 L867.3 1668.1 L864.0 1673.8 L860.8 1679.4 L857.6 1685.0 L854.4 1690.5 M1154.1 1346.0 L1148.8 1355.1 L1143.5 1364.1 L1138.3 1373.0 L1133.2 1381.7 L1128.2 1390.4 L1123.2 1398.9 L1118.3 1407.3 L1113.4 1415.7 L1108.7 1423.9 L1104.0 1432.0 L1099.3 1440.0 L1094.7 1448.0 L1090.2 1455.8 L1085.7 1463.6 L1081.3 1471.2 L1076.9 1478.8 L1072.6 1486.3 L1068.3 1493.7 L1064.1 1501.0 L1060.0 1508.3 L1055.8 1515.5 L1051.8 1522.6 L1047.8 1529.6 L1043.8 1536.5 L1039.8 1543.4 L1036.0 1550.2 L1032.1 1557.0 L1028.3 1563.7 L1024.5 1570.3 L1020.8 1576.8 L1017.1 1583.3 L1013.5 1589.7 L1009.9 1596.1 L1006.3 1602.4 L1002.8 1608.6 L999.2 1614.8 L995.8 1621.0 L992.3 1627.0 L988.9 1633.1 L985.6 1639.0 L982.2 1644.9 L978.9 1650.8 L975.7 1656.6 L972.4 1662.4 L969.2 1668.1 L966.0 1673.8 L962.9 1679.4 L959.8 1685.0 L956.7 1690.5 M1286.3 1346.0 L1281.2 1355.1 L1276.1 1364.1 L1271.2 1373.0 L1266.3 1381.7 L1261.4 1390.4 L1256.6 1398.9 L1251.9 1407.3 L1247.3 1415.7 L1242.7 1423.9 L1238.2 1432.0 L1233.7 1440.0 L1229.3 1448.0 L1225.0 1455.8 L1220.7 1463.6 L1216.4 1471.2 L1212.3 1478.8 L1208.1 1486.3 L1204.0 1493.7 L1200.0 1501.0 L1196.0 1508.3 L1192.1 1515.5 L1188.2 1522.6 L1184.3 1529.6 L1180.5 1536.5 L1176.7 1543.4 L1173.0 1550.2 L1169.3 1557.0 L1165.7 1563.7 L1162.1 1570.3 L1158.5 1576.8 L1155.0 1583.3 L1151.5 1589.7 L1148.1 1596.1 L1144.6 1602.4 L1141.3 1608.6 L1137.9 1614.8 L1134.6 1621.0 L1131.3 1627.0 L1128.1 1633.1 L1124.8 1639.0 L1121.6 1644.9 L1118.5 1650.8 L1115.4 1656.6 L1112.3 1662.4 L1109.2 1668.1 L1106.2 1673.8 L1103.1 1679.4 L1100.2 1685.0 L1097.2 1690.5 M1405.0 1346.0 L1400.1 1355.1 L1395.2 1364.1 L1390.4 1373.0 L1385.7 1381.7 L1381.1 1390.4 L1376.5 1398.9 L1372.0 1407.3 L1367.5 1415.7 L1363.1 1423.9 L1358.8 1432.0 L1354.5 1440.0 L1350.2 1448.0 L1346.1 1455.8 L1341.9 1463.6 L1337.9 1471.2 L1333.8 1478.8 L1329.9 1486.3 L1326.0 1493.7 L1322.1 1501.0 L1318.3 1508.3 L1314.5 1515.5 L1310.7 1522.6 L1307.0 1529.6 L1303.4 1536.5 L1299.8 1543.4 L1296.2 1550.2 L1292.7 1557.0 L1289.2 1563.7 L1285.7 1570.3 L1282.3 1576.8 L1278.9 1583.3 L1275.6 1589.7 L1272.3 1596.1 L1269.0 1602.4 L1265.7 1608.6 L1262.5 1614.8 L1259.4 1621.0 L1256.2 1627.0 L1253.1 1633.1 L1250.0 1639.0 L1247.0 1644.9 L1243.9 1650.8 L1241.0 1656.6 L1238.0 1662.4 L1235.1 1668.1 L1232.1 1673.8 L1229.3 1679.4 L1226.4 1685.0 L1223.6 1690.5 M1491.7 1346.0 L1486.9 1355.1 L1482.2 1364.1 L1477.5 1373.0 L1472.9 1381.7 L1468.4 1390.4 L1464.0 1398.9 L1459.6 1407.3 L1455.2 1415.7 L1451.0 1423.9 L1446.8 1432.0 L1442.6 1440.0 L1438.5 1448.0 L1434.5 1455.8 L1430.5 1463.6 L1426.5 1471.2 L1422.6 1478.8 L1418.8 1486.3 L1415.0 1493.7 L1411.2 1501.0 L1407.5 1508.3 L1403.8 1515.5 L1400.2 1522.6 L1396.6 1529.6 L1393.1 1536.5 L1389.6 1543.4 L1386.2 1550.2 L1382.7 1557.0 L1379.4 1563.7 L1376.0 1570.3 L1372.7 1576.8 L1369.4 1583.3 L1366.2 1589.7 L1363.0 1596.1 L1359.8 1602.4 L1356.7 1608.6 L1353.6 1614.8 L1350.5 1621.0 L1347.5 1627.0 L1344.5 1633.1 L1341.5 1639.0 L1338.5 1644.9 L1335.6 1650.8 L1332.7 1656.6 L1329.9 1662.4 L1327.0 1668.1 L1324.2 1673.8 L1321.4 1679.4 L1318.7 1685.0 L1315.9 1690.5" stroke="#008000" stroke-opacity="0.5" stroke-width="1.92" stroke-dasharray="7.71 3.33"/>
<path d="M689.6 1690.5 L2242.6 137.5" stroke="#0000ff" stroke-opacity="0.4" stroke-width="4.17" stroke-dasharray="15.42 6.67"/>
<path d="M810.0 132.7 L807.3 137.9 L751.8 233.9 L704.5 328.0 L693.7 418.3 L706.4 503.4 L719.0 582.4 L747.6 657.6 L792.4 726.7 L838.9 791.8 L876.5 852.7 L903.1 910.5 L931.8 963.9 L961.5 1015.8 L959.4 1064.8 L968.7 1110.7 L992.0 1153.6 L995.2 1194.8 L993.4 1232.5 L1012.9 1271.0 L1029.0 1304.6 L1045.0 1335.5 L1061.2 1366.4 L1067.4 1394.0 L1061.2 1420.1 L1059.9 1443.5 L1068.8 1467.1 L1075.5 1487.2 L1083.8 1497.9 L1099.9 1523.9 L1114.3 1541.8 L1136.6 1557.0 L1153.6 1573.1 L1164.4 1585.6 L1171.5 1600.0 L1174.2 1612.5 L1171.5 1623.2 L1164.4 1631.3 L1152.7 1638.5 L1168.9 1643.3 L1103.5 1648.2" stroke="#ff0000" stroke-width="6.25" stroke-linejoin="round" stroke-linecap="square"/>
<path d="M557.6 132.7 L555.5 137.9 L515.4 233.9 L474.9 328.0 L454.5 418.3 L512.0 503.4 L570.4 583.1 L557.8 656.5 L500.5 726.7 L473.7 791.8 L406.4 852.7 L613.8 911.2 L523.5 964.9 L626.3 1015.8 L865.5 1064.1 L938.2 1110.7 L968.7 1153.6 L973.0 1194.8 L851.0 1232.9 L908.2 1269.2 L662.2 1304.2 L144.8 1335.7 L322.0 1365.2 L504.7 1393.7 L759.6 1419.0 L880.6 1443.6 L905.5 1467.1 L964.6 1487.2 L1006.5 1507.6 L1018.5 1525.7 L1010.4 1542.7 L994.3 1555.2 L967.4 1572.2 L940.6 1585.6 L910.1 1606.2 L901.2 1616.1 L899.4 1624.1 L904.8 1632.2 L919.1 1638.5 L928.9 1643.3 L957.6 1647.9" stroke="#008000" stroke-width="6.25" stroke-linejoin="round" stroke-linecap="square"/>
<path d="M212.0 131.5 L215.4 140.6 L218.8 149.6 L222.2 158.7 L225.7 167.7 L229.3 176.8 L232.9 185.9 L236.5 194.9 L240.2 204.0 L244.0 213.0 L247.7 222.1 L251.6 231.2 L255.5 240.2 L259.4 249.3 L263.4 258.4 L267.5 267.4 L271.6 276.5 L275.7 285.5 L279.9 294.6 L284.1 303.7 L288.4 312.7 L292.8 321.8 L297.2 330.8 L301.6 339.9 L306.1 349.0 L310.7 358.0 L315.3 367.1 L319.9 376.1 L324.6 385.2 L329.4 394.3 L334.2 403.3 L339.1 412.4 L344.0 421.5 L349.0 430.5 L354.0 439.6 L359.1 448.6 L364.2 457.7 L369.4 466.8 L374.6 475.8 L379.9 484.9 L385.2 493.9 L390.6 503.0 L396.1 512.1 L401.6 521.1 L407.1 530.2 L412.7 539.2 L418.4 548.3 L424.1 557.4 L429.8 566.4 L435.7 575.5 L441.5 584.6 L447.4 593.6 L453.4 602.7 L459.4 611.7 L465.5 620.8 L471.6 629.9 L477.8 638.9 L484.0 648.0 L490.3 657.0 L496.6 666.1 L502.9 675.2 L509.3 684.2 L515.8 693.3 L522.3 702.3 L528.8 711.4 L535.4 720.5 L542.0 729.5 L548.6 738.6 L555.3 747.6 L562.1 756.7 L568.8 765.8 L575.6 774.8 L582.4 783.9 L589.3 793.0 L596.2 802.0 L603.1 811.1 L610.0 820.1 L616.9 829.2 L623.9 838.3 L630.9 847.3 L637.9 856.4 L644.9 865.4 L651.8 874.5 L658.8 883.6 L665.8 892.6 L672.8 901.7 L679.8 910.7 L686.8 919.8 L693.7 928.9 L700.7 937.9 L707.6 947.0 L714.5 956.1 L721.3 965.1 L728.2 974.2 L734.9 983.2 L741.7 992.3 L748.4 1001.4 L755.0 1010.4 L761.6 1019.5 L768.1 1028.5 L774.6 1037.6 L781.0 1046.7 L787.4 1055.7 L793.6 1064.8 L799.8 1073.8 L805.9 1082.9 L812.0 1092.0 L817.9 1101.0 L823.8 1110.1 L829.6 1119.1 L835.3 1128.2 L840.9 1137.3 L846.4 1146.3 L851.8 1155.4 L857.1 1164.5 L862.3 1173.5 L867.4 1182.6 L872.4 1191.6 L877.4 1200.7 L882.2 1209.8 L886.9 1218.8 L891.5 1227.9 L896.0 1236.9 L900.4 1246.0 L904.7 1255.1 L909.0 1264.1 L913.1 1273.2 L917.1 1282.2 L921.0 1291.3 L924.8 1300.4 L928.6 1309.4 L932.2 1318.5 L935.7 1327.6 L939.2 1336.6 L942.5 1345.7 L945.8 1354.7 L948.9 1363.8 L952.0 1372.9 L955.0 1381.9 L957.9 1391.0 L960.7 1400.0 L963.5 1409.1 L966.1 1418.2 L968.7 1427.2 L971.2 1436.3 L973.7 1445.3 L976.0 1454.4 L978.3 1463.5 L980.5 1472.5 L982.6 1481.6 L984.7 1490.7 L986.7 1499.7 L988.6 1508.8 L990.5 1517.8 L992.3 1526.9 L994.0 1536.0 L995.7 1545.0 L997.3 1554.1 L998.9 1563.1 L1000.4 1572.2 L1103.7 1648.2" stroke="#000" stroke-width="4.17" stroke-linejoin="round" stroke-linecap="square"/>
<path d="M300.8 131.5 L304.2 139.9 L307.7 148.3 L311.2 156.7 L314.7 165.1 L318.3 173.5 L322.0 181.9 L325.7 190.3 L329.4 198.7 L333.1 207.1 L337.0 215.5 L340.8 223.9 L344.7 232.3 L348.7 240.7 L352.6 249.1 L356.7 257.5 L360.7 265.9 L364.9 274.3 L369.0 282.7 L373.2 291.1 L377.5 299.5 L381.8 307.9 L386.1 316.3 L390.5 324.7 L394.9 333.1 L399.4 341.5 L403.9 349.9 L408.5 358.3 L413.1 366.7 L417.7 375.1 L422.4 383.5 L427.2 391.9 L432.0 400.3 L436.8 408.7 L441.7 417.1 L446.6 425.5 L451.6 433.9 L456.6 442.3 L461.7 450.7 L466.8 459.1 L471.9 467.5 L477.1 475.9 L482.4 484.3 L487.6 492.7 L493.0 501.1 L498.4 509.5 L503.8 517.9 L509.2 526.3 L514.7 534.7 L520.3 543.1 L525.9 551.5 L531.5 559.9 L537.2 568.3 L542.9 576.7 L548.7 585.1 L554.5 593.5 L560.3 601.9 L566.2 610.3 L572.1 618.7 L578.0 627.1 L584.0 635.5 L590.1 643.9 L596.1 652.3 L602.2 660.7 L608.3 669.1 L614.5 677.5 L620.7 685.9 L626.9 694.3 L633.1 702.7 L639.4 711.1 L645.7 719.5 L652.0 727.9 L658.3 736.3 L664.7 744.7 L671.0 753.1 L677.4 761.5 L683.8 769.9 L690.2 778.3 L696.6 786.7 L703.0 795.1 L709.4 803.5 L715.9 811.9 L722.3 820.3 L728.7 828.7 L735.1 837.1 L741.5 845.5 L747.8 853.9 L754.2 862.3 L760.5 870.7 L766.8 879.1 L773.1 887.5 L779.3 895.9 L785.6 904.3 L791.7 912.7 L797.9 921.1 L804.0 929.5 L810.0 937.9 L816.0 946.3 L822.0 954.7 L827.9 963.1 L833.7 971.5 L839.5 979.9 L845.2 988.3 L850.9 996.7 L856.5 1005.1 L862.0 1013.5 L867.5 1021.9 L872.8 1030.3 L878.1 1038.7 L883.3 1047.1 L888.5 1055.5 L893.5 1063.9 L898.5 1072.3 L903.4 1080.7 L908.2 1089.1 L913.0 1097.5 L917.6 1105.9 L922.2 1114.3 L926.6 1122.7 L931.0 1131.1 L935.3 1139.5 L939.5 1147.9 L943.6 1156.3 L947.6 1164.7 L951.6 1173.1 L955.4 1181.5 L959.2 1189.9 L962.9 1198.3 L966.5 1206.7 L970.0 1215.1 L973.4 1223.5 L976.8 1231.9 L980.0 1240.3 L983.2 1248.7 L986.3 1257.1 L989.3 1265.5 L992.3 1273.9 L995.1 1282.3 L997.9 1290.7 L1000.6 1299.1 L1003.3 1307.5 L1005.8 1315.9 L1008.3 1324.3 L1010.7 1332.7 L1013.1 1341.1 L1015.4 1349.5 L1017.6 1357.9 L1019.7 1366.3 L1021.8 1374.7 L1023.8 1383.1 L1025.8 1391.5 L1027.7 1399.9 L1029.5 1408.3 L1031.3 1416.7 L1033.0 1425.1 L1034.6 1433.5 L1036.2 1441.9 L1037.8 1450.3 L1039.3 1458.7 L1040.7 1467.1 L1050.5 1487.5 L1099.5 1525.4" stroke="#000" stroke-width="3.12" stroke-dasharray="11.56 5.00" stroke-linejoin="round"/>
</g>
<rect x="111.2" y="137.5" width="1349.5" height="1553.0" fill="none" stroke="#000" stroke-width="1.67"/>
<text x="97.0" y="146.1" font-size="20.83" text-anchor="end">100</text>
<text x="97.0" y="613.6" font-size="20.83" text-anchor="end">200</text>
<text x="97.0" y="887.1" font-size="20.83" text-anchor="end">300</text>
<text x="97.0" y="1081.1" font-size="20.83" text-anchor="end">400</text>
<text x="97.0" y="1231.6" font-size="20.83" text-anchor="end">500</text>
<text x="97.0" y="1354.6" font-size="20.83" text-anchor="end">600</text>
<text x="97.0" y="1458.5" font-size="20.83" text-anchor="end">700</text>
<text x="97.0" y="1548.6" font-size="20.83" text-anchor="end">800</text>
<text x="97.0" y="1628.0" font-size="20.83" text-anchor="end">900</text>
<text x="97.0" y="1699.1" font-size="20.83" text-anchor="end">1000</text>
<text x="111.2" y="1722.7" font-size="20.83" text-anchor="middle">−30</text>
<text x="304.0" y="1722.7" font-size="20.83" text-anchor="middle">−20</text>
<text x="496.8" y="1722.7" font-size="20.83" text-anchor="middle">−10</text>
<text x="689.6" y="1722.7" font-size="20.83" text-anchor="middle">0</text>
<text x="882.3" y="1722.7" font-size="20.83" text-anchor="middle">10</text>
<text x="1075.1" y="1722.7" font-size="20.83" text-anchor="middle">20</text>
<text x="1267.9" y="1722.7" font-size="20.83" text-anchor="middle">30</text>
<text x="1460.7" y="1722.7" font-size="20.83" text-anchor="middle">40</text>
<path d="M111.2 137.5 h-7.3 M111.2 605.0 h-7.3 M111.2 878.5 h-7.3 M111.2 1072.5 h-7.3 M111.2 1223.0 h-7.3 M111.2 1346.0 h-7.3 M111.2 1449.9 h-7.3 M111.2 1540.0 h-7.3 M111.2 1619.4 h-7.3 M111.2 1690.5 h-7.3 M111.2 1690.5 v7.3 M304.0 1690.5 v7.3 M496.8 1690.5 v7.3 M689.6 1690.5 v7.3 M882.3 1690.5 v7.3 M1075.1 1690.5 v7.3 M1267.9 1690.5 v7.3 M1460.7 1690.5 v7.3" stroke="#000" stroke-width="1.67" fill="none"/>
<text x="786.0" y="1750.4" font-size="20.83" font-weight="bold" text-anchor="middle">TEMPERATURE (°C)</text>
<text transform="translate(29.9 916.0) rotate(-90)" font-size="20.83" font-weight="bold" text-anchor="middle">PRESSURE (HPA)</text>
<text x="1325.5" y="86.5" font-size="45.83" font-weight="bold" text-anchor="middle">Concordia SC (27.23°S, 52.05°W) | Validade: 24 Apr 2026 - 09Z | MONAN-3Km</text>
<rect x="120.6" y="148.8" width="257.4" height="218.9" rx="4.2" fill="#fff" fill-opacity="0.8" stroke="#ccc" stroke-opacity="0.8" stroke-width="2.08"/>
<text x="188.6" y="173.8" font-size="20.83">Hail Growth Zone</text>
<rect x="129.8" y="158.6" width="41.6" height="14.6" fill="#00ffff" fill-opacity="0.11" stroke="#00ffff" stroke-opacity="0.11" stroke-width="2.08"/>
<text x="188.6" y="204.2" font-size="20.83">TEMPERATURE</text>
<path d="M129.8 196.3 H171.4" stroke="#f00" stroke-width="6.25" stroke-linecap="square"/>
<text x="188.6" y="234.7" font-size="20.83">DEWPOINT</text>
<path d="M129.8 226.8 H171.4" stroke="#008000" stroke-width="6.25" stroke-linecap="square"/>
<text x="188.6" y="265.1" font-size="20.83">SB PARCEL PATH</text>
<path d="M129.8 257.2 H171.4" stroke="#000" stroke-width="4.17" stroke-linecap="square"/>
<text x="188.6" y="295.6" font-size="20.83">MU PARCEL PATH</text>
<path d="M129.8 287.7 H171.4" stroke="#000" stroke-width="3.12" stroke-dasharray="11.56 5.00"/>
<text x="188.6" y="326.1" font-size="20.83">SBCAPE</text>
<rect x="129.8" y="310.9" width="41.6" height="14.6" fill="#d62728" fill-opacity="0.2"/>
<text x="188.6" y="356.5" font-size="20.83">SBCIN</text>
<rect x="129.8" y="341.3" width="41.6" height="14.6" fill="#1f77b4" fill-opacity="0.2"/>
<path d="M1460.7 132.7 L1410.8 122.0 L1400.3 140.6 L1410.8 122.0 L1417.0 123.3 L1406.5 142.0 L1417.0 123.3 L1423.3 124.7 L1412.8 143.3 L1423.3 124.7 L1429.5 126.0 L1424.2 135.3 L1429.5 126.0Z M1460.7 232.6 L1410.2 225.4 L1401.0 244.8 L1410.2 225.4 L1416.5 226.3 L1407.3 245.7 L1416.5 226.3 L1422.8 227.2 L1413.6 246.6 L1422.8 227.2 L1429.1 228.1 L1419.9 247.5 L1429.1 228.1 L1435.4 229.0 L1430.8 238.7 L1435.4 229.0Z M1460.7 328.2 L1409.8 323.9 L1414.5 344.8 L1422.6 325.0 L1428.9 325.5 L1424.9 335.4 L1428.9 325.5Z M1460.7 419.0 L1409.9 414.0 L1414.2 434.9 L1422.6 415.2 L1429.0 415.9 L1420.6 435.5 L1429.0 415.9Z M1460.7 503.4 L1409.8 499.3 L1414.5 520.2 L1422.5 500.3 L1428.9 500.9 L1420.9 520.7 L1428.9 500.9 L1435.3 501.4 L1431.3 511.3 L1435.3 501.4Z M1460.7 582.8 L1409.7 582.3 L1415.8 602.8 L1422.4 582.4 L1428.8 582.5 L1422.2 602.9 L1428.8 582.5 L1435.2 582.6 L1428.6 602.9 L1435.2 582.6Z M1460.7 657.0 L1409.7 657.2 L1416.1 677.6 L1422.4 657.2 L1428.8 657.2 L1422.5 677.6 L1428.8 657.2 L1435.2 657.1 L1428.9 677.6 L1435.2 657.1Z M1460.7 726.8 L1409.7 726.1 L1415.8 746.6 L1422.4 726.3 L1428.8 726.3 L1422.1 746.7 L1428.8 726.3 L1435.2 726.4 L1431.8 736.6 L1435.2 726.4Z M1460.7 790.9 L1409.7 793.3 L1417.1 813.4 L1422.5 792.7 L1428.8 792.4 L1423.4 813.1 L1428.8 792.4 L1435.2 792.1 L1432.5 802.4 L1435.2 792.1Z M1460.7 852.8 L1409.8 856.4 L1417.6 876.3 L1422.5 855.5 L1428.9 855.1 L1424.0 875.9 L1428.9 855.1Z M1460.7 910.6 L1409.7 912.0 L1416.6 932.3 L1422.4 911.7 L1428.8 911.5 L1425.9 921.8 L1428.8 911.5Z M1460.7 964.6 L1409.7 964.1 L1403.1 984.5 L1409.7 964.1 L1416.0 964.2 L1409.5 984.5 L1416.0 964.2 L1422.4 964.2 L1415.8 984.6 L1422.4 964.2 L1428.8 964.3 L1422.2 984.7 L1428.8 964.3 L1435.2 964.4 L1431.9 974.5 L1435.2 964.4Z M1460.7 1015.4 L1409.7 1012.5 L1402.2 1032.5 L1409.7 1012.5 L1416.1 1012.9 L1408.6 1032.9 L1416.1 1012.9 L1422.5 1013.2 L1415.0 1033.3 L1422.5 1013.2 L1428.8 1013.6 L1421.3 1033.6 L1428.8 1013.6 L1435.2 1014.0 L1431.5 1024.0 L1435.2 1014.0Z M1460.7 1065.0 L1410.1 1058.5 L1401.1 1077.9 L1410.1 1058.5 L1416.4 1059.3 L1407.5 1078.7 L1416.4 1059.3 L1422.7 1060.1 L1413.8 1079.6 L1422.7 1060.1 L1429.1 1060.9 L1424.6 1070.7 L1429.1 1060.9Z M1460.7 1109.8 L1410.4 1100.9 L1400.6 1119.9 L1410.4 1100.9 L1416.7 1102.0 L1406.9 1121.0 L1416.7 1102.0 L1423.0 1103.1 L1413.2 1122.1 L1423.0 1103.1 L1429.3 1104.2 L1424.4 1113.7 L1429.3 1104.2Z M1460.7 1153.8 L1410.9 1142.5 L1400.2 1161.0 L1410.9 1142.5 L1417.1 1143.9 L1406.4 1162.4 L1417.1 1143.9 L1423.4 1145.3 L1412.6 1163.8 L1423.4 1145.3Z M1460.7 1194.6 L1410.7 1184.2 L1400.3 1202.9 L1410.7 1184.2 L1417.0 1185.5 L1406.6 1204.2 L1417.0 1185.5 L1423.2 1186.8 L1412.8 1205.5 L1423.2 1186.8Z M1460.7 1269.6 L1413.6 1250.0 L1399.8 1266.4 L1413.6 1250.0 L1419.5 1252.5 L1405.7 1268.9 L1419.5 1252.5 L1425.3 1254.9 L1411.6 1271.3 L1425.3 1254.9Z M1460.7 1304.0 L1416.2 1279.1 L1400.6 1293.8 L1416.2 1279.1 L1421.7 1282.2 L1406.2 1296.9 L1421.7 1282.2 L1427.3 1285.3 L1419.5 1292.7 L1427.3 1285.3Z M1460.7 1335.5 L1418.0 1307.5 L1401.5 1321.0 L1418.0 1307.5 L1423.4 1311.0 L1406.8 1324.5 L1423.4 1311.0 L1428.7 1314.5 L1420.4 1321.3 L1428.7 1314.5Z M1460.7 1365.2 L1420.4 1333.9 L1402.8 1346.1 L1420.4 1333.9 L1425.4 1337.8 L1407.9 1350.0 L1425.4 1337.8Z M1460.7 1419.4 L1426.2 1381.8 L1406.9 1390.9 L1426.2 1381.8 L1430.5 1386.5 L1420.8 1391.0 L1430.5 1386.5Z M1460.7 1443.6 L1427.6 1404.8 L1407.9 1413.2 L1427.6 1404.8 L1431.7 1409.6 L1421.9 1413.8 L1431.7 1409.6Z M1460.7 1487.2 L1419.9 1456.5 L1402.5 1469.0 L1419.9 1456.5Z M1460.7 1525.8 L1428.4 1486.3 L1408.6 1494.2 L1428.4 1486.3Z M1460.7 1573.0 L1448.1 1523.5 L1426.7 1522.4 L1448.1 1523.5Z M1460.7 1607.9 L1474.0 1558.6 L1455.9 1547.1 L1474.0 1558.6Z M1460.7 1647.8 L1494.0 1609.1 L1482.6 1590.9 L1494.0 1609.1Z" fill="#000" stroke="#000" stroke-width="2.25" stroke-linejoin="miter"/>
<defs><clipPath id="ch"><rect x="1568.6" y="140.8" width="865.2" height="863.8"/></clipPath></defs>
<g clip-path="url(#ch)" fill="none">
<circle cx="2001.4" cy="573.0" r="108.1" stroke="#808080" stroke-opacity="0.57" stroke-width="2.96"/>
<circle cx="2001.4" cy="573.0" r="216.2" stroke="#808080" stroke-opacity="0.57" stroke-width="2.96"/>
<circle cx="2001.4" cy="573.0" r="324.3" stroke="#808080" stroke-opacity="0.57" stroke-width="2.96"/>
<circle cx="2001.4" cy="573.0" r="432.4" stroke="#808080" stroke-opacity="0.57" stroke-width="2.96"/>
<circle cx="2001.4" cy="573.0" r="540.5" stroke="#808080" stroke-opacity="0.57" stroke-width="2.96"/>
<circle cx="2001.4" cy="573.0" r="648.6" stroke="#808080" stroke-opacity="0.57" stroke-width="2.96"/>
<circle cx="2001.4" cy="573.0" r="54.1" stroke="#808080" stroke-opacity="0.23" stroke-width="1.98" stroke-dasharray="7.71 3.33"/>
<circle cx="2001.4" cy="573.0" r="108.1" stroke="#808080" stroke-opacity="0.23" stroke-width="1.98" stroke-dasharray="7.71 3.33"/>
<circle cx="2001.4" cy="573.0" r="162.2" stroke="#808080" stroke-opacity="0.23" stroke-width="1.98" stroke-dasharray="7.71 3.33"/>
<circle cx="2001.4" cy="573.0" r="216.2" stroke="#808080" stroke-opacity="0.23" stroke-width="1.98" stroke-dasharray="7.71 3.33"/>
<circle cx="2001.4" cy="573.0" r="270.2" stroke="#808080" stroke-opacity="0.23" stroke-width="1.98" stroke-dasharray="7.71 3.33"/>
<circle cx="2001.4" cy="573.0" r="324.3" stroke="#808080" stroke-opacity="0.23" stroke-width="1.98" stroke-dasharray="7.71 3.33"/>
<circle cx="2001.4" cy="573.0" r="378.4" stroke="#808080" stroke-opacity="0.23" stroke-width="1.98" stroke-dasharray="7.71 3.33"/>
<circle cx="2001.4" cy="573.0" r="432.4" stroke="#808080" stroke-opacity="0.23" stroke-width="1.98" stroke-dasharray="7.71 3.33"/>
<circle cx="2001.4" cy="573.0" r="486.5" stroke="#808080" stroke-opacity="0.23" stroke-width="1.98" stroke-dasharray="7.71 3.33"/>
<circle cx="2001.4" cy="573.0" r="540.5" stroke="#808080" stroke-opacity="0.23" stroke-width="1.98" stroke-dasharray="7.71 3.33"/>
<circle cx="2001.4" cy="573.0" r="594.6" stroke="#808080" stroke-opacity="0.23" stroke-width="1.98" stroke-dasharray="7.71 3.33"/>
<circle cx="2001.4" cy="573.0" r="648.6" stroke="#808080" stroke-opacity="0.23" stroke-width="1.98" stroke-dasharray="7.71 3.33"/>
<path d="M1568.6 573.0 H2433.8 M2001.4 140.8 V1004.6" stroke="#808080" stroke-opacity="0.57" stroke-width="2.96"/>
<text x="2001.2" y="517.1" font-size="19.8" font-weight="bold" fill="#808080" fill-opacity="0.65" stroke="none">10</text>
<text x="2054.5" y="570.5" font-size="19.8" font-weight="bold" fill="#808080" fill-opacity="0.65" stroke="none">10</text>
<text x="2001.2" y="463.0" font-size="19.8" font-weight="bold" fill="#808080" fill-opacity="0.65" stroke="none">20</text>
<text x="2108.5" y="570.5" font-size="19.8" font-weight="bold" fill="#808080" fill-opacity="0.65" stroke="none">20</text>
<text x="2001.2" y="409.0" font-size="19.8" font-weight="bold" fill="#808080" fill-opacity="0.65" stroke="none">30</text>
<text x="2162.6" y="570.5" font-size="19.8" font-weight="bold" fill="#808080" fill-opacity="0.65" stroke="none">30</text>
<text x="2001.2" y="354.9" font-size="19.8" font-weight="bold" fill="#808080" fill-opacity="0.65" stroke="none">40</text>
<text x="2216.6" y="570.5" font-size="19.8" font-weight="bold" fill="#808080" fill-opacity="0.65" stroke="none">40</text>
<text x="2001.2" y="300.9" font-size="19.8" font-weight="bold" fill="#808080" fill-opacity="0.65" stroke="none">50</text>
<text x="2270.7" y="570.5" font-size="19.8" font-weight="bold" fill="#808080" fill-opacity="0.65" stroke="none">50</text>
<text x="2001.2" y="246.8" font-size="19.8" font-weight="bold" fill="#808080" fill-opacity="0.65" stroke="none">60</text>
<text x="2324.7" y="570.5" font-size="19.8" font-weight="bold" fill="#808080" fill-opacity="0.65" stroke="none">60</text>
<text x="2001.2" y="192.7" font-size="19.8" font-weight="bold" fill="#808080" fill-opacity="0.65" stroke="none">70</text>
<text x="2378.8" y="570.5" font-size="19.8" font-weight="bold" fill="#808080" fill-opacity="0.65" stroke="none">70</text>
<path d="M2060.2 548.0 L2048.1 558.3 L2046.25 553.85 L2001.4 573.2 L2046.25 553.85 L2044.4 549.4Z" fill="#808080" fill-opacity="0.65" stroke="#808080" stroke-opacity="0.65" stroke-width="4.17" stroke-linejoin="miter" stroke-miterlimit="10"/>
<text x="2070.9" y="554.5" font-size="27.08" font-weight="bold" fill="#000" fill-opacity="0.6" stroke="none">LM</text>
<path d="M1971.3 606.4 L1993.5 605.4 M1993.5 605.4 L1993.0 611.5 M1993.0 611.5 L1981.7 620.4" stroke="#ff0000" stroke-width="12.50" stroke-linecap="butt"/>
<path d="M1984.1 622.5 L1984.1 625.0 M1984.1 625.0 L1986.5 625.8 M1986.5 625.8 L1989.5 625.8 M1989.5 625.8 L2002.3 621.6 M2002.3 621.6 L2013.2 619.4 M2013.2 619.4 L2024.0 622.1 M2024.0 622.1 L2029.4 623.3 M2029.4 623.3 L2047.6 612.0 M2047.6 612.0 L2049.5 614.5 M2049.5 614.5 L2052.1 615.0 M2052.1 615.0 L2054.5 619.4" stroke="#008000" stroke-width="12.50" stroke-linecap="butt"/>
<path d="M2050.1 625.8 L2052.6 632.2 M2052.6 632.2 L2074.7 640.1 M2074.7 640.1 L2093.0 645.0 M2093.0 645.0 L2106.7 643.5 M2106.7 643.5 L2137.3 631.7 M2137.3 631.7 L2149.6 609.5" stroke="#ffff00" stroke-width="12.50" stroke-linecap="butt"/>
<path d="M2146.0 604.5 L2155.0 606.5 M2155.0 606.5 L2169.0 609.5 M2169.0 609.5 L2183.0 605.2 M2183.0 605.2 L2197.4 595.1 M2197.4 595.1 L2232.1 586.2 M2232.1 586.2 L2256.7 577.2 M2256.7 577.2 L2269.0 570.5" stroke="#0000ff" stroke-width="12.50" stroke-linecap="butt"/>
<path d="M2269.0 570.5 L2284.7 562.7 M2284.7 562.7 L2324.9 551.0 M2324.9 551.0 L2329.4 551.0 M2329.4 551.0 L2351.8 560.9 M2351.8 560.9 L2363.7 570.5 M2363.7 570.5 L2380.4 569.4" stroke="#ff00ff" stroke-width="12.50" stroke-linecap="butt"/>
</g>
<rect x="1568.6" y="140.8" width="865.2" height="863.8" fill="none" stroke="#000" stroke-width="1.67"/>
<rect x="1578.6" y="150.7" width="268.6" height="67.1" rx="4.2" fill="#fff" fill-opacity="0.8" stroke="#ccc" stroke-opacity="0.8" stroke-width="2.08"/>
<rect x="1588.5" y="161.5" width="41" height="13.6" fill="#1f77b4"/>
<rect x="1588.0" y="190.6" width="41.5" height="15.4" fill="#808080" fill-opacity="0.6" stroke="#808080" stroke-opacity="0.6" stroke-width="4.17"/>
<text x="1645.7" y="176.0" font-size="20.83">0-12km WIND</text>
<text x="1645.7" y="206.8" font-size="20.83">Bunkers LM Vector</text>
<rect x="1541.8" y="1058.6" width="918.8" height="719.6" fill="#fff" stroke="#000" stroke-width="2.08"/>
<text x="1569.0" y="1113.1" font-size="27.08" font-weight="bold">SBCAPE:</text>
<text x="1731.0" y="1113.1" font-size="27.08" font-weight="bold" fill="#ff4500">0 J/kg</text>
<text x="1569.0" y="1185.0" font-size="27.08" font-weight="bold">SBCIN:</text>
<text x="1731.0" y="1185.0" font-size="27.08" font-weight="bold" fill="#add8e6">0 J/kg</text>
<text x="1569.0" y="1257.0" font-size="27.08" font-weight="bold">MLCAPE:</text>
<text x="1731.0" y="1257.0" font-size="27.08" font-weight="bold" fill="#ff4500">0 J/kg</text>
<text x="1569.0" y="1328.9" font-size="27.08" font-weight="bold">MLCIN:</text>
<text x="1731.0" y="1328.9" font-size="27.08" font-weight="bold" fill="#add8e6">0 J/kg</text>
<text x="1569.0" y="1400.8" font-size="27.08" font-weight="bold">MUCAPE:</text>
<text x="1731.0" y="1400.8" font-size="27.08" font-weight="bold" fill="#ff4500">0 J/kg</text>
<text x="1569.0" y="1472.8" font-size="27.08" font-weight="bold">MUCIN:</text>
<text x="1731.0" y="1472.8" font-size="27.08" font-weight="bold" fill="#add8e6">0 J/kg</text>
<text x="1569.0" y="1544.7" font-size="27.08" font-weight="bold">DCAPE:</text>
<text x="1731.0" y="1544.7" font-size="27.08" font-weight="bold" fill="#ff4500">1059 J/kg</text>
<text x="1569.0" y="1616.6" font-size="27.08" font-weight="bold">K-INDEX:</text>
<text x="1731.0" y="1616.6" font-size="27.08" font-weight="bold" fill="#ff4500">26 °C</text>
<text x="1569.0" y="1688.6" font-size="27.08" font-weight="bold">LI:</text>
<text x="1731.0" y="1688.6" font-size="27.08" font-weight="bold" fill="#000">5.4</text>
<text x="1569.0" y="1760.5" font-size="27.08" font-weight="bold">SI:</text>
<text x="1731.0" y="1760.5" font-size="27.08" font-weight="bold" fill="#000">3.0</text>
<text x="1919.8" y="1113.1" font-size="27.08" font-weight="bold">0-1km SRH:</text>
<text x="2136.2" y="1113.1" font-size="27.08" font-weight="bold" fill="#000080">-37 m²/s²</text>
<text x="1919.8" y="1194.0" font-size="27.08" font-weight="bold">0-1km SHR:</text>
<text x="2136.2" y="1194.0" font-size="27.08" font-weight="bold" fill="#0000ff">8 kn</text>
<text x="1919.8" y="1274.8" font-size="27.08" font-weight="bold">0-3km SRH:</text>
<text x="2136.2" y="1274.8" font-size="27.08" font-weight="bold" fill="#000080">-75 m²/s²</text>
<text x="1919.8" y="1355.7" font-size="27.08" font-weight="bold">0-6km SHR:</text>
<text x="2136.2" y="1355.7" font-size="27.08" font-weight="bold" fill="#0000ff">37 kn</text>
<text x="1919.8" y="1436.5" font-size="27.08" font-weight="bold">SIG TORN:</text>
<text x="2136.2" y="1436.5" font-size="27.08" font-weight="bold" fill="#ff4500">0.0</text>
<text x="1919.8" y="1517.4" font-size="27.08" font-weight="bold">SCP:</text>
<text x="2136.2" y="1517.4" font-size="27.08" font-weight="bold" fill="#ff4500">0.0</text>
<text x="1919.8" y="1598.3" font-size="27.08" font-weight="bold">LR 700-500:</text>
<text x="2136.2" y="1598.3" font-size="27.08" font-weight="bold" fill="#ff4500">5.7 Δ°C·K/km/m</text>
<text x="1919.8" y="1679.1" font-size="27.08" font-weight="bold">LCL HGT:</text>
<text x="2136.2" y="1679.1" font-size="27.08" font-weight="bold" fill="#ff4500">[972] m</text>
<text x="1919.8" y="1760.0" font-size="27.08" font-weight="bold">PW:</text>
<text x="2136.2" y="1760.0" font-size="27.08" font-weight="bold" fill="#000080">25.4 mm</text>
</svg></body></html>
